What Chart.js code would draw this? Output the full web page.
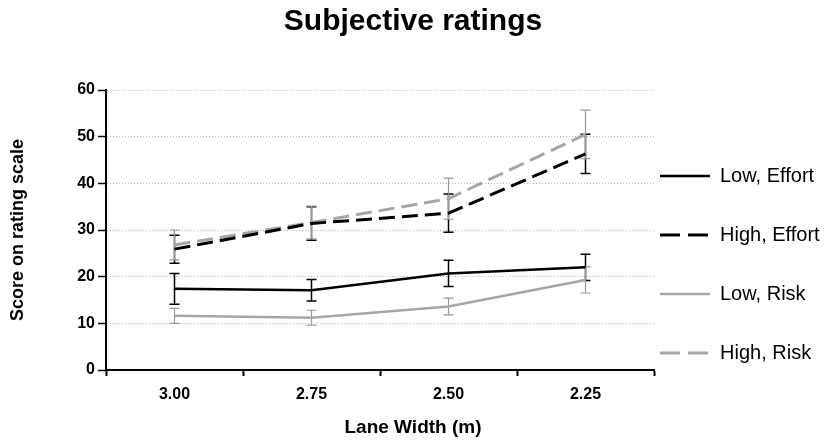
<!DOCTYPE html>
<html>
<head>
<meta charset="utf-8">
<script src="https://cdn.jsdelivr.net/npm/chart.js@4.4.1/dist/chart.umd.min.js"></script>
<style>
  body { margin: 0; background: #fff; }
  canvas { display: block; }
</style>
</head>
<body>
<canvas id="grafica" width="826" height="441"></canvas>
<script>
// datos
const categorias = ['3.00', '2.75', '2.50', '2.25'];
const lowEffort = [17.4, 17.1, 20.7, 22.0];
const lowEffortErr = [3.3, 2.3, 2.8, 2.8];
const highEffort = [25.9, 31.4, 33.6, 46.3];
const highEffortErr = [3.0, 3.6, 4.1, 4.2];
const lowRisk = [11.6, 11.2, 13.6, 19.3];
const lowRiskErr = [1.6, 1.6, 1.8, 2.8];
const highRisk = [26.8, 31.6, 36.7, 50.5];
const highRiskErr = [3.2, 3.5, 4.4, 5.2];
const yMin = 0, yMax = 60, yPaso = 10;

const gris = '#a6a6a6';
Chart.defaults.font.family = '"Liberation Sans", Arial, sans-serif';
Chart.defaults.color = '#000';

// barras de error dibujadas con la escala y
const barrasError = {
    id: 'barrasError',
    beforeDatasetsDraw(chart) {
        const ctx = chart.ctx;
        const y = chart.scales.y;
        chart.data.datasets.forEach((ds, d) => {
            if (!chart.isDatasetVisible(d)) return;
            const meta = chart.getDatasetMeta(d);
            ctx.save();
            ctx.strokeStyle = ds.errColor;
            ctx.lineWidth = ds.errWidth;
            meta.data.forEach((pt, i) => {
                const arriba = y.getPixelForValue(ds.data[i] + ds.errors[i]);
                const abajo = y.getPixelForValue(ds.data[i] - ds.errors[i]);
                ctx.beginPath();
                ctx.moveTo(pt.x, arriba); ctx.lineTo(pt.x, abajo);
                ctx.moveTo(pt.x - 5, arriba); ctx.lineTo(pt.x + 5, arriba);
                ctx.moveTo(pt.x - 5, abajo); ctx.lineTo(pt.x + 5, abajo);
                ctx.stroke();
            });
            ctx.restore();
        });
    }
};

function serie(label, data, errors, color, dash, ancho, errColor, errWidth) {
    return {
        label: label,
        data: data,
        errors: errors,
        borderColor: color,
        backgroundColor: color,
        borderDash: dash,
        borderWidth: ancho,
        pointRadius: 0,
        pointHoverRadius: 0,
        tension: 0,
        errColor: errColor,
        errWidth: errWidth
    };
}

new Chart(document.getElementById('grafica'), {
    type: 'line',
    data: {
        labels: categorias,
        datasets: [
            serie('Low, Effort', lowEffort, lowEffortErr, '#000', [], 2.5, '#000', 1.5),
            serie('High, Effort', highEffort, highEffortErr, '#000', [16, 7], 3, '#000', 1.5),
            serie('Low, Risk', lowRisk, lowRiskErr, gris, [], 2.5, '#999', 1.2),
            serie('High, Risk', highRisk, highRiskErr, gris, [16, 7], 3, '#999', 1.2)
        ]
    },
    options: {
        responsive: false,
        animation: false,
        layout: { padding: 0 },
        plugins: {
            title: {
                display: true,
                text: 'Subjective ratings',
                font: { size: 30, weight: 'bold' },
                color: '#000',
                padding: { top: 4, bottom: 50 }
            },
            subtitle: {
                display: true,
                position: 'bottom',
                text: 'Lane Width (m)',
                font: { size: 19, weight: 'bold' },
                color: '#000',
                padding: { top: 6, bottom: 2 }
            },
            legend: {
                position: 'right',
                align: 'start',
                maxWidth: 172,
                title: { display: true, text: '', font: { size: 12, lineHeight: 1 }, padding: { top: 148, bottom: 0 } },
                labels: {
                    usePointStyle: true,
                    pointStyle: 'line',
                    pointStyleWidth: 50,
                    padding: 6,
                    color: '#000',
                    font: { size: 20, lineHeight: '53px' },
                    generateLabels(chart) {
                        const items = Chart.defaults.plugins.legend.labels.generateLabels(chart);
                        items.forEach(it => {
                            const ds = chart.data.datasets[it.datasetIndex];
                            it.text = [it.text];
                            it.lineWidth = ds.borderWidth;
                            it.strokeStyle = ds.borderColor;
                            it.lineDash = ds.borderDash.length ? [20, 8] : [];
                        });
                        return items;
                    }
                }
            },
            tooltip: { enabled: false }
        },
        scales: {
            x: {
                offset: true,
                grid: { offset: true, drawOnChartArea: false, tickLength: 6, tickColor: '#000', tickWidth: 2 },
                border: { color: '#000', width: 2 },
                ticks: { font: { size: 16, weight: 'bold' }, padding: 9, color: '#000' },
                afterFit(s) { s.height = 40.2; }
            },
            y: {
                min: yMin,
                max: yMax,
                ticks: { stepSize: yPaso, font: { size: 16, weight: 'bold' }, padding: 3, color: '#000' },
                grid: { color: '#b3b3b3', lineWidth: 1, tickLength: 8, tickColor: '#000', tickWidth: 1.5 },
                border: { color: '#000', width: 2, dash: [1, 2] },
                title: {
                    display: true,
                    text: 'Score on rating scale',
                    font: { size: 18, weight: 'bold' },
                    color: '#000',
                    padding: { top: 7, bottom: 0 }
                },
                afterFit(s) { s.width = 106; }
            }
        }
    },
    plugins: [barrasError]
});
</script>
</body>
</html>
